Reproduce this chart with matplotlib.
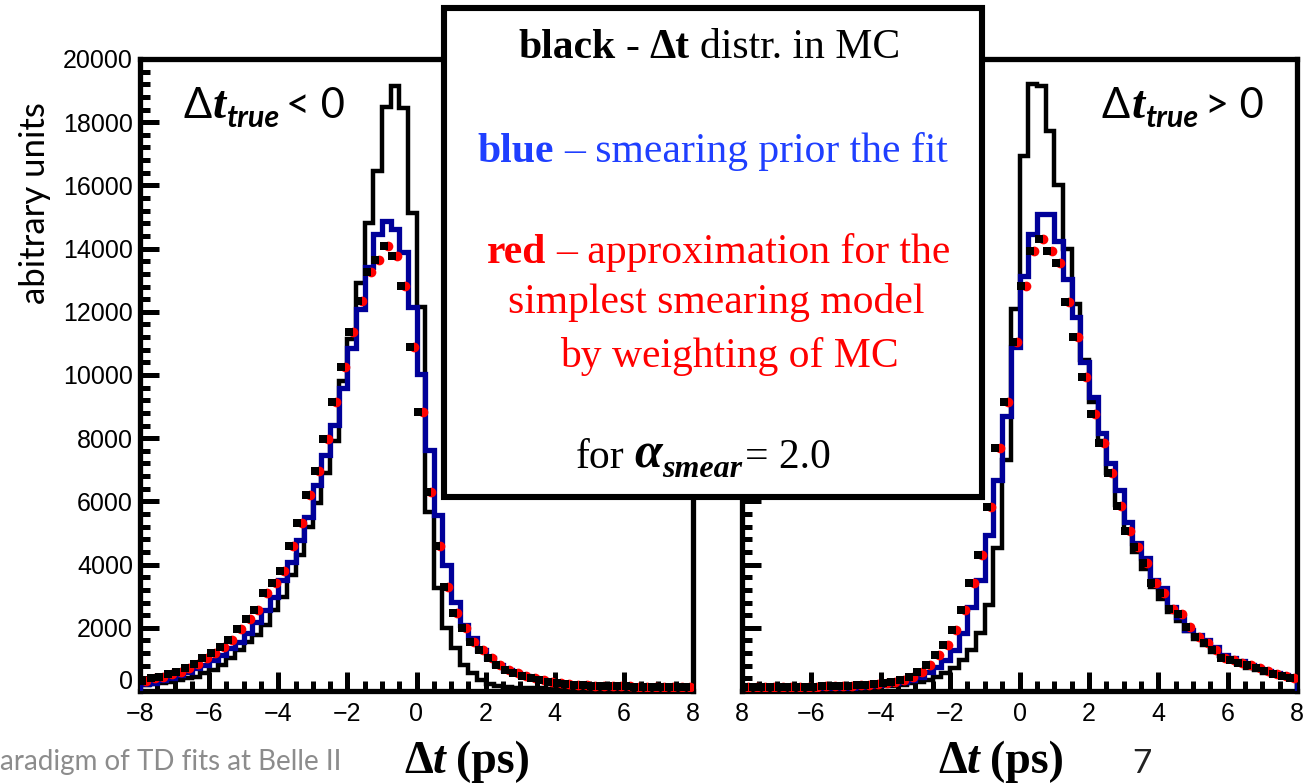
import matplotlib
matplotlib.use('Agg')
import matplotlib.pyplot as plt
import numpy as np
from matplotlib.patches import Rectangle
from matplotlib.ticker import MultipleLocator
from matplotlib.transforms import IdentityTransform, ScaledTranslation

plt.rcParams['font.family'] = 'Liberation Sans'

# 64 bins on [-8, 8] ps
bin_edges = np.linspace(-8, 8, 65)

# dt_true < 0 panel
neg_mc = [190, 220, 250, 290, 350, 410, 440, 570, 670, 820, 1050, 1300, 1550, 1780, 2090, 2570,
          2980, 3680, 4310, 5200, 5960, 6910, 7900, 9800, 11130, 12900, 14800, 16450, 18480, 19150, 18450, 15120,
          12140, 5670, 3270, 2000, 1360, 820, 570, 350, 220, 170, 130, 110, 100, 90, 80, 75,
          70, 65, 60, 55, 50, 48, 45, 42, 40, 38, 35, 33, 30, 28, 26, 25]
neg_smear = [220, 250, 350, 410, 510, 600, 730, 820, 980, 1140, 1360, 1550, 1840, 2190, 2570, 2980,
             3520, 4090, 4790, 5520, 6530, 7480, 8430, 9600, 10870, 12080, 13410, 14460, 14870, 14610, 13880, 12140,
             10020, 7640, 5580, 3990, 2820, 2090, 1680, 1300, 1050, 820, 670, 570, 480, 410, 350, 300,
             260, 230, 200, 180, 165, 150, 140, 130, 120, 110, 105, 100, 95, 90, 85, 80]
neg_weight = [330, 410, 440, 540, 600, 730, 860, 1050, 1200, 1390, 1620, 1970, 2280, 2570, 3110, 3420,
              3800, 4600, 5330, 6210, 6970, 7990, 9160, 10240, 11350, 12350, 13250, 13630, 14070, 13760, 12810, 10900,
              8840, 6310, 4600, 3300, 2470, 2000, 1550, 1300, 1050, 820, 670, 570, 475, 410, 350, 290,
              250, 220, 190, 180, 170, 160, 155, 150, 145, 140, 135, 130, 128, 125, 120, 115]

# dt_true > 0 panel
pos_mc = [30, 30, 35, 35, 40, 40, 45, 50, 55, 60, 70, 80, 90, 100, 115, 130,
          150, 170, 200, 240, 290, 350, 440, 570, 730, 980, 1300, 1840, 2730, 4530, 7300, 12080,
          16930, 19210, 19150, 17720, 16010, 13980, 12240, 10490, 9130, 7900, 6900, 5900, 5100, 4400, 3850, 3300,
          2900, 2500, 2200, 1900, 1650, 1450, 1250, 1100, 960, 860, 740, 660, 580, 520, 460, 410]
pos_smear = [15, 15, 20, 20, 25, 30, 35, 40, 50, 60, 75, 90, 105, 125, 150, 180,
             210, 250, 290, 350, 440, 600, 760, 980, 1300, 1840, 2660, 3520, 4950, 6690, 8690, 10900,
             13120, 14460, 15090, 15090, 14230, 13030, 11820, 10400, 9290, 8180, 7230, 6370, 5360, 4690, 4220, 3520,
             3270, 2660, 2350, 1930, 1780, 1620, 1390, 1140, 1050, 940, 820, 720, 630, 570, 510, 450]
pos_weight = [120, 120, 130, 130, 130, 130, 140, 140, 140, 150, 150, 160, 170, 180, 200, 220,
              250, 290, 350, 440, 600, 820, 1140, 1460, 1930, 2570, 3420, 4310, 5830, 7700, 9160, 11030,
              12810, 13920, 14300, 13920, 13540, 12300, 11190, 9950, 8780, 7860, 6910, 5860, 5070, 4560, 4060, 3420,
              3110, 2600, 2440, 2030, 1710, 1520, 1300, 1050, 980, 890, 820, 730, 620, 540, 470, 420]

x_ticks = [-8, -6, -4, -2, 0, 2, 4, 6, 8]
left_xlabels = ['\u22128', '\u22126', '\u22124', '\u22122', '0', '2', '4', '6', '8']
right_xlabels = ['8', '\u22126', '\u22124', '\u22122', '0', '2', '4', '6', '8']

W, H = 1304, 784
fig = plt.figure(figsize=(W / 100, H / 100), dpi=100)
PX = IdentityTransform()


def axes_px(x0, x1, y0, y1):
    # pixel box measured from the top-left corner
    return fig.add_axes([x0 / W, 1 - y1 / H, (x1 - x0) / W, (y1 - y0) / H])


def panel(ax, mc, smear, weight, xlabels):
    centers = 0.5 * (bin_edges[1:] + bin_edges[:-1])
    ax.stairs(mc, bin_edges, color='black', lw=3.2, zorder=2)
    ax.stairs(smear, bin_edges, color='#000099', lw=3.8, zorder=3)
    ax.plot(centers + 0.05, weight, 'o', color='red', ms=7, mew=0, zorder=4)
    ax.plot(centers - 0.07, weight, 's', color='black', ms=5.6, mew=0, zorder=5)
    ax.set_xlim(-8, 8)
    ax.set_ylim(0, 20000)
    ax.set_xticks(x_ticks, xlabels)
    ax.xaxis.set_minor_locator(MultipleLocator(0.5))
    ax.yaxis.set_major_locator(MultipleLocator(2000))
    ax.yaxis.set_minor_locator(MultipleLocator(400))
    ax.tick_params(which='both', direction='in', top=False, right=False, width=3.6, color='black')
    ax.tick_params(which='major', length=14)
    ax.tick_params(which='minor', length=7)
    ax.tick_params(axis='x', labelsize=18, pad=8)
    ax.tick_params(axis='y', labelsize=18, pad=5)
    for sp in ax.spines.values():
        sp.set_linewidth(3.8)


ax1 = axes_px(140, 693, 59, 691)
panel(ax1, neg_mc, neg_smear, neg_weight, left_xlabels)

ax2 = axes_px(742, 1297, 59, 691)
panel(ax2, pos_mc, pos_smear, pos_weight, right_xlabels)
ax2.tick_params(labelleft=False)

# legend box laid over both panels
fig.add_artist(Rectangle((444, H - 497), 538, 489, transform=PX, fc='white', ec='black', lw=4.4, zorder=3))

renderer = fig.canvas.get_renderer()
fig.canvas.draw()
# lift the "0" label a little so it clears the -8 below it
for tk in ax1.yaxis.get_major_ticks():
    if tk.get_loc() == 0:
        tk.label1.set_transform(tk.label1.get_transform()
                                + ScaledTranslation(0, 8 / 72, fig.dpi_scale_trans))


def runs(parts, x, y, center=False):
    # parts: (text, style, shift down in px, gap after in px)
    items = []
    for s, kw, dy, gap in parts:
        t = fig.text(0, 0, s, transform=PX, va='baseline', ha='left', zorder=6, **kw)
        items.append((t, dy, gap, t.get_window_extent(renderer).width))
    total = sum(w + g for _, _, g, w in items) - items[-1][2]
    cx = x - total / 2 if center else x
    for t, dy, gap, w in items:
        t.set_position((cx, H - y - dy))
        cx += w + gap


serif = 'Liberation Serif'
blue_txt = '#1f3fff'
reg = dict(family=serif, size=30)
bold = dict(family=serif, size=30, weight='bold')

runs([('black', bold, 0, 10), ('-', reg, 0, 10), ('\u0394t', bold, 0, 10), ('distr. in MC', reg, 0, 0)], 709, 58, True)
runs([('blue', dict(bold, color=blue_txt), 0, 10),
      ('\u2013 smearing prior the fit', dict(reg, color=blue_txt), 0, 0)], 713, 162, True)
runs([('red', dict(bold, color='red'), 0, 10),
      ('\u2013 approximation for the', dict(reg, color='red'), 0, 0)], 719, 263, True)
runs([('simplest smearing model', dict(reg, color='red'), 0, 0)], 716, 313, True)
runs([('by weighting of MC', dict(reg, color='red'), 0, 0)], 729, 367, True)
runs([('for', reg, 0, 10),
      ('\u03b1', dict(family=serif, size=36, weight='bold', style='italic'), 0, 1),
      ('smear', dict(family=serif, size=23, weight='bold', style='italic'), 9, 2),
      ('= 2.0', reg, 0, 0)], 703, 468, True)

# panel labels
sans = 'Lato'
lab = dict(family=sans, size=30)
tbig = dict(family=serif, size=34, weight='bold', style='italic')
tsub = dict(family=sans, size=22, weight='bold', style='italic')
runs([('\u0394', lab, 0, 1), ('t', tbig, 0, 1), ('true', tsub, 9, 6), ('< 0', lab, 0, 0)], 183, 118)
runs([('\u0394', lab, 0, 1), ('t', tbig, 0, 1), ('true', tsub, 9, 6), ('> 0', lab, 0, 0)], 1102, 118)

# axis titles and slide footer
fig.text(35, H - 203, 'abitrary units', transform=PX, rotation=90, ha='center', va='center',
         family=sans, size=25)
xt_d = dict(family=serif, size=33, weight='bold')
xt_t = dict(family=serif, size=33, weight='bold', style='italic')
runs([('\u0394', xt_d, 0, 0), ('t', xt_t, 0, 10), ('(ps)', xt_d, 0, 0)], 467, 773, True)
runs([('\u0394', xt_d, 0, 0), ('t', xt_t, 0, 10), ('(ps)', xt_d, 0, 0)], 1001, 773, True)
fig.text(1132, H - 773, '7', transform=PX, family=sans, size=24, color='#222222')
fig.text(0, H - 770, 'aradigm of TD fits at Belle II', transform=PX, family=sans, size=20, color='#8c8c8c')

fig.savefig('out.png', dpi=100)
